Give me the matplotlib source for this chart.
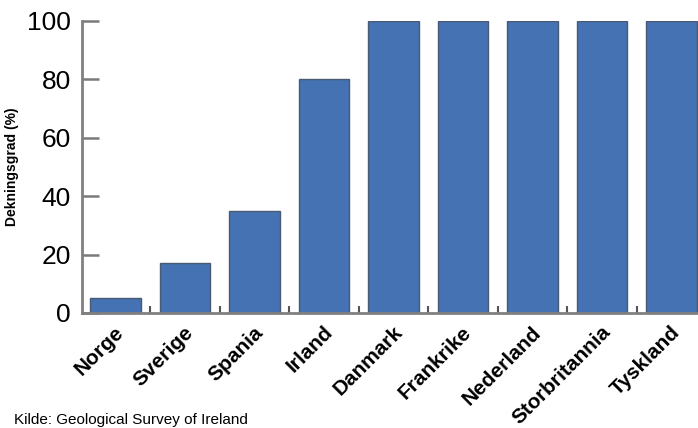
import numpy as np
import matplotlib
matplotlib.use('Agg')
import matplotlib.pyplot as plt
import matplotlib.transforms as mtransforms

# Data
land = ['Norge', 'Sverige', 'Spania', 'Irland', 'Danmark',
        'Frankrike', 'Nederland', 'Storbritannia', 'Tyskland']
dekning = [5, 17, 35, 80, 100, 100, 100, 100, 100]
yticks = [0, 20, 40, 60, 80, 100]

plt.rcParams['font.family'] = ['Liberation Sans', 'DejaVu Sans']

fig = plt.figure(figsize=(6.98, 4.28), dpi=100)
ax = fig.add_axes([82/698, (428-313)/428, 1 - 82/698, (313-21)/428])

x = np.arange(len(land))
ax.bar(x, dekning, width=0.73, color='#4572B2', edgecolor='#4a5a72', linewidth=1.0, zorder=2)

ax.set_xlim(-0.48, 8.38)
ax.set_ylim(0, 100)

for s in ['top', 'right']:
    ax.spines[s].set_visible(False)
for s in ['left', 'bottom']:
    ax.spines[s].set_color('#808080')
    ax.spines[s].set_linewidth(2)

ax.set_yticks(yticks)
ax.set_yticklabels([str(v) for v in yticks], fontsize=19)
ax.tick_params(axis='y', direction='in', length=12, width=1.8, color='#7a7a7a', pad=8)

ax.set_xticks(x)
ax.set_xticklabels(land, rotation=45, ha='right', fontsize=15, fontweight='bold')
ax.tick_params(axis='x', length=0, pad=7)
ax.set_xticks(np.arange(len(land) - 1) + 0.5, minor=True)
ax.tick_params(axis='x', which='minor', direction='in', length=5, width=1.5, color='#555555')

# shift labels a bit to the right, like the original
offset = mtransforms.ScaledTranslation(9/72, 0, fig.dpi_scale_trans)
for lab in ax.get_xticklabels():
    lab.set_transform(lab.get_transform() + offset)

ax.set_ylabel('Dekningsgrad (%)', fontsize=10, fontweight='bold', labelpad=6)

fig.text(14/698, 1 - 413/428, 'Kilde: Geological Survey of Ireland', fontsize=11, va='top', ha='left')

plt.savefig('out.png', dpi=100)
